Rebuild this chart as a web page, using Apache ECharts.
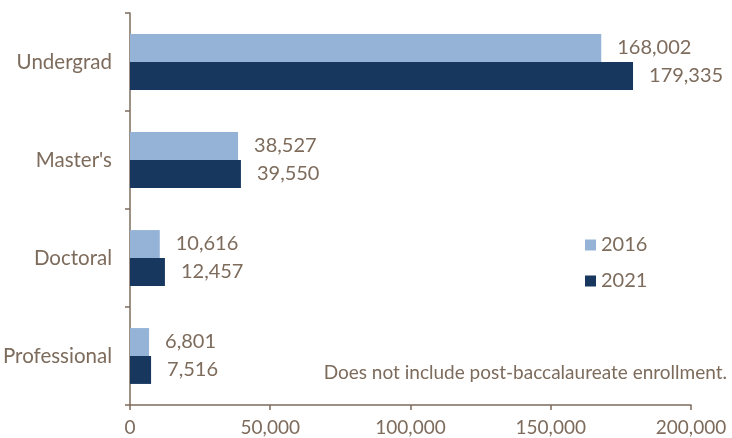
<!DOCTYPE html>
<html>
<head>
<meta charset="utf-8">
<script src="https://cdn.jsdelivr.net/npm/echarts@6/dist/echarts.min.js"></script>
<style>
html,body{margin:0;padding:0;background:#fff;}
#chart{width:732px;height:438px;}
</style>
</head>
<body>
<div id="chart"></div>
<script>
const categories = ["Undergrad", "Master's", "Doctoral", "Professional"];
const series2016 = [168002, 38527, 10616, 6801];
const series2021 = [179335, 39550, 12457, 7516];
const xTicks = [0, 50000, 100000, 150000, 200000];
const note = "Does not include post-baccalaureate enrollment.";

const textColor = "#7d6b5c";
const fontFamily = "Lato";
const fmt = v => Number(v).toLocaleString("en-US");

const chart = echarts.init(document.getElementById("chart"));
chart.setOption({
  animation: false,
  textStyle: { fontFamily: fontFamily, color: textColor },
  grid: { left: 129, right: 41, top: 13, bottom: 33, containLabel: false },
  xAxis: {
    type: "value",
    min: xTicks[0],
    max: xTicks[xTicks.length - 1],
    interval: xTicks[1] - xTicks[0],
    axisLine: { show: true, lineStyle: { color: textColor, width: 1.5 } },
    axisTick: { show: true, length: 5, lineStyle: { color: textColor, width: 1.5 } },
    splitLine: { show: false },
    axisLabel: { color: textColor, fontFamily: fontFamily, fontSize: 19, margin: 13, formatter: v => fmt(v) }
  },
  yAxis: {
    type: "category",
    inverse: true,
    data: categories,
    axisLine: { show: true, lineStyle: { color: textColor, width: 1.5 } },
    axisTick: { show: true, length: 5, lineStyle: { color: textColor, width: 1.5 } },
    axisLabel: { color: textColor, fontFamily: fontFamily, fontSize: 20.5, margin: 18 }
  },
  legend: {
    orient: "vertical",
    left: 580,
    top: 230,
    itemWidth: 11,
    itemHeight: 11,
    itemGap: 16,
    icon: "rect",
    textStyle: { color: textColor, fontFamily: fontFamily, fontSize: 20, lineHeight: 20 },
    data: ["2016", "2021"]
  },
  graphic: [{
    type: "text",
    right: 5,
    top: 363,
    style: { text: note, fill: textColor, font: "19px Lato", textAlign: "right" }
  }],
  series: [
    {
      name: "2016",
      type: "bar",
      data: series2016,
      barGap: "0%",
      barCategoryGap: "43%",
      itemStyle: { color: "#95b3d7" },
      label: { show: true, position: "right", distance: 16, color: textColor, fontFamily: fontFamily, fontSize: 20, formatter: p => fmt(p.value) }
    },
    {
      name: "2021",
      type: "bar",
      data: series2021,
      barGap: "0%",
      barCategoryGap: "43%",
      itemStyle: { color: "#17375e" },
      label: { show: true, position: "right", distance: 16, color: textColor, fontFamily: fontFamily, fontSize: 20, formatter: p => fmt(p.value) }
    }
  ]
});
</script>
</body>
</html>
